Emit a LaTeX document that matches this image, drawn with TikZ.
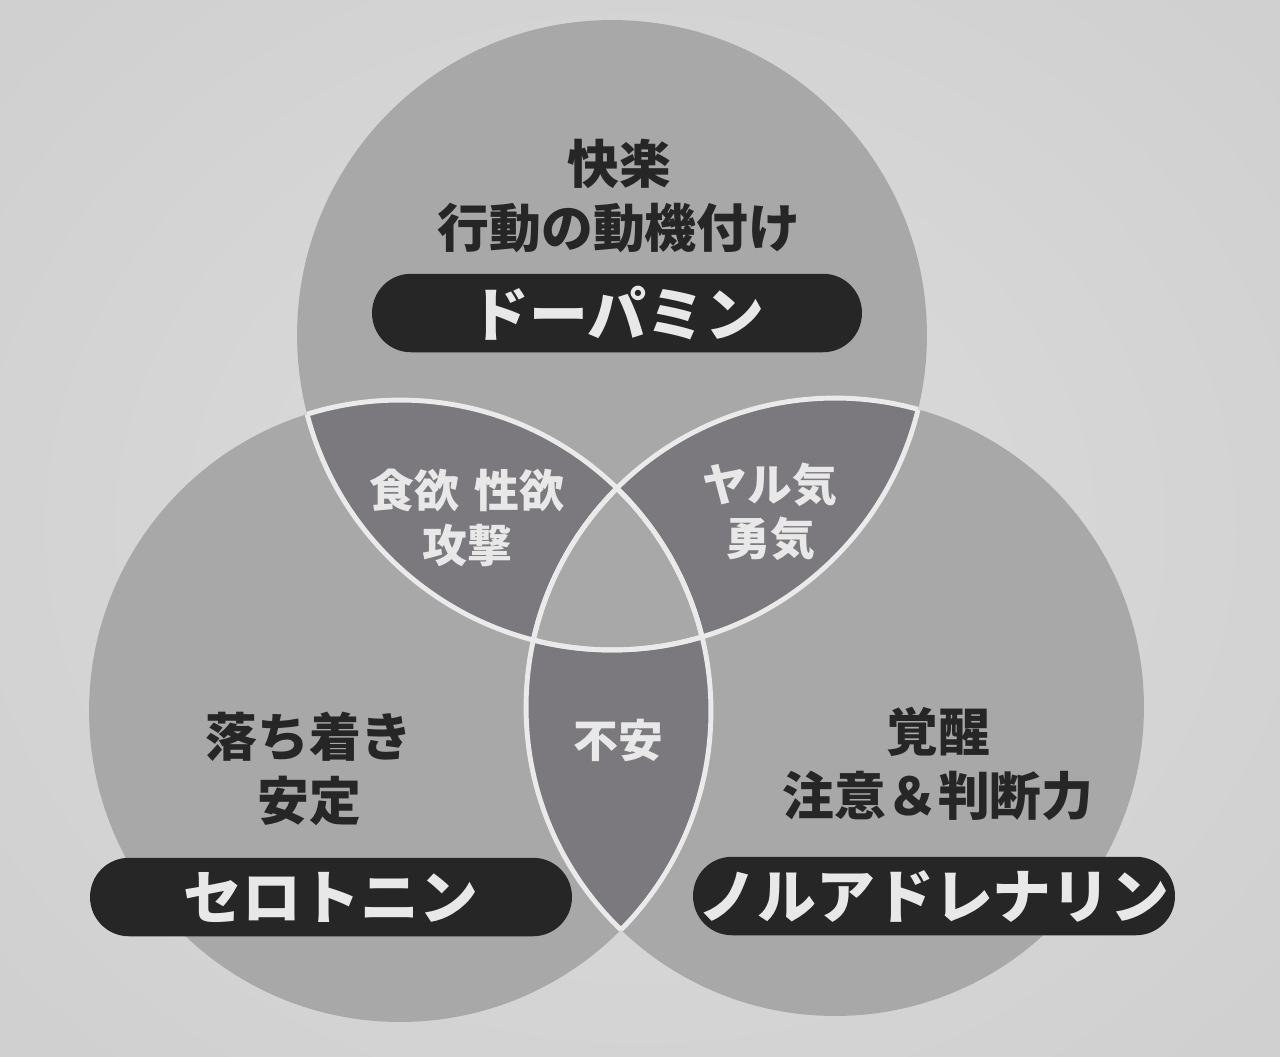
\documentclass[tikz,border=0pt]{standalone}
\usepackage{fontspec}
\setmainfont{Noto Sans CJK JP}
\definecolor{bgin}{HTML}{DCDCDC}
\definecolor{bgout}{HTML}{D0D0D0}
\definecolor{circfill}{HTML}{A8A8A8}
\definecolor{lensfill}{HTML}{7C797E}
\definecolor{sepline}{HTML}{EAEAEA}
\definecolor{ink}{HTML}{262626}
\definecolor{paper}{HTML}{E8E8E8}
\begin{document}
\begin{tikzpicture}[x=0.02cm,y=-0.02cm,
  sep/.style={draw=sepline,line width=2.8pt},
  darklbl/.style={text=ink,align=center,font=\bfseries\fontsize{29.5}{36}\selectfont},
  lenslbl/.style={text=paper,align=center,font=\bfseries\fontsize{25.5}{31}\selectfont},
  pill/.style={fill=ink,text=paper,rounded corners=0.78cm,minimum height=1.57cm,inner sep=0pt,font=\bfseries\fontsize{33.5}{40}\selectfont}]
\useasboundingbox (0,0) rectangle (1280,1056);
\shade[inner color=bgin,outer color=bgout] (-200,-200) rectangle (1480,1256);
\coordinate (cT) at (612,335);
\coordinate (cL) at (400,711);
\coordinate (cR) at (835,707);
\def\radT{6.30cm}\def\radL{6.22cm}\def\radR{6.18cm}
% circles
\fill[circfill] (cT) circle[radius=\radT];
\fill[circfill] (cL) circle[radius=\radL];
\fill[circfill] (cR) circle[radius=\radR];
% pairwise overlaps
\begin{scope}\clip (cT) circle[radius=\radT]; \fill[lensfill] (cL) circle[radius=\radL];\end{scope}
\begin{scope}\clip (cT) circle[radius=\radT]; \fill[lensfill] (cR) circle[radius=\radR];\end{scope}
\begin{scope}\clip (cL) circle[radius=\radL]; \fill[lensfill] (cR) circle[radius=\radR];\end{scope}
% centre
\begin{scope}\clip (cT) circle[radius=\radT]; \clip (cL) circle[radius=\radL]; \fill[circfill] (cR) circle[radius=\radR];\end{scope}
% white separating arcs
\begin{scope}\clip (cT) circle[radius=\radT]; \draw[sep] (cL) circle[radius=\radL]; \draw[sep] (cR) circle[radius=\radR];\end{scope}
\begin{scope}\clip (cL) circle[radius=\radL]; \draw[sep] (cT) circle[radius=\radT]; \draw[sep] (cR) circle[radius=\radR];\end{scope}
\begin{scope}\clip (cR) circle[radius=\radR]; \draw[sep] (cT) circle[radius=\radT]; \draw[sep] (cL) circle[radius=\radL];\end{scope}
% labels
\node[darklbl] (topl) at (619,196) {快楽\\行動の動機付け};
\node[pill,minimum width=9.8cm] (dop) at (617,313) {ドーパミン};
\node[lenslbl] (tl) at (467,518) {食欲\hspace{0.35em}性欲\\攻撃};
\node[lenslbl] (tr) at (770,512) {ヤル気\\勇気};
\node[lenslbl] (mid) at (618,740) {不安};
\node[darklbl] (leftl) at (309,769) {落ち着き\\安定};
\node[darklbl] (rightl) at (938,764) {覚醒\\注意＆判断力};
\node[pill,minimum width=9.64cm] (ser) at (331,897) {セロトニン};
\node[pill,minimum width=9.64cm] (nor) at (934,896) {ノルアドレナリン};
\end{tikzpicture}
\end{document}
